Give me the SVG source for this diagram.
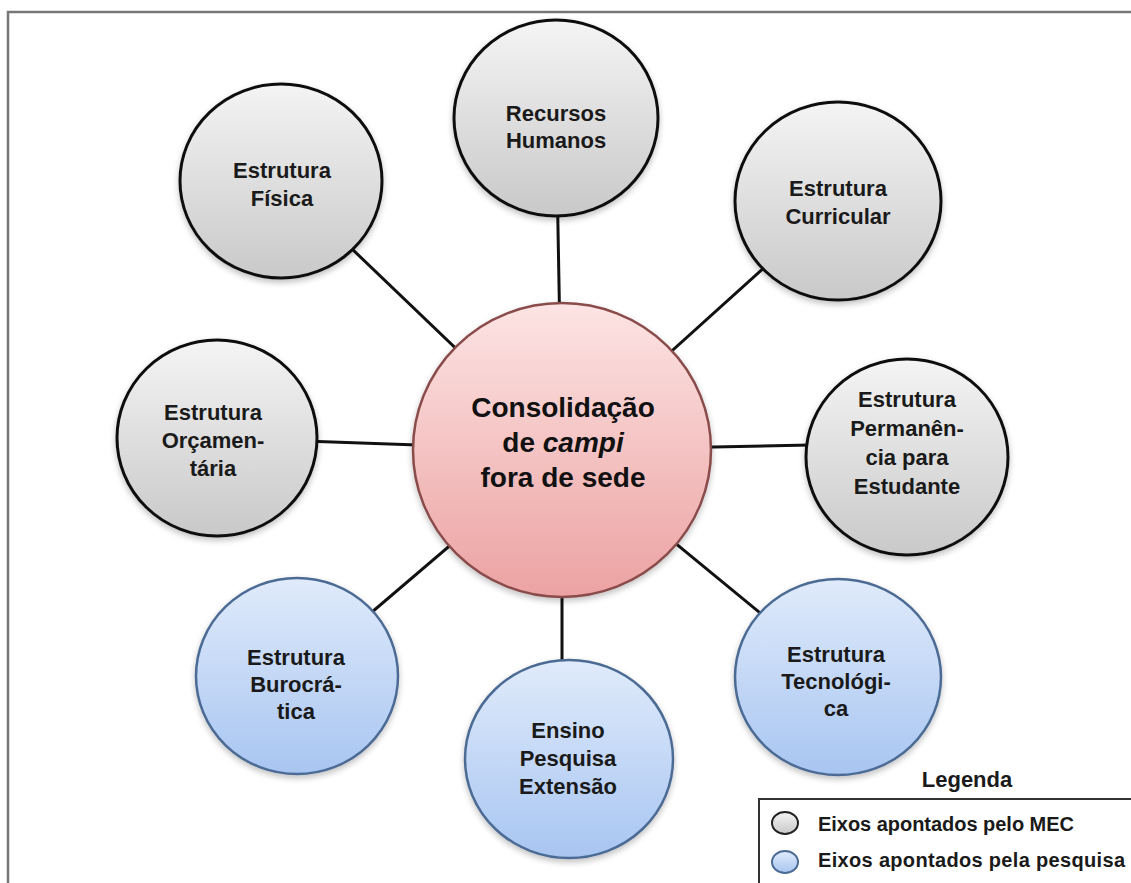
<svg xmlns="http://www.w3.org/2000/svg" width="1131" height="883" viewBox="0 0 1131 883">
<defs>
<linearGradient id="gGray" x1="0" y1="0" x2="0" y2="1">
<stop offset="0" stop-color="#f4f4f4"/>
<stop offset="1" stop-color="#c9c9c9"/>
</linearGradient>
<linearGradient id="gBlue" x1="0" y1="0" x2="0" y2="1">
<stop offset="0" stop-color="#e0ebfb"/>
<stop offset="1" stop-color="#a8c5f1"/>
</linearGradient>
<linearGradient id="gRed" x1="0" y1="0" x2="0" y2="1">
<stop offset="0" stop-color="#fde4e4"/>
<stop offset="1" stop-color="#eca2a2"/>
</linearGradient>
<filter id="sh" x="-20%" y="-20%" width="140%" height="140%">
<feGaussianBlur in="SourceAlpha" stdDeviation="3"/>
<feOffset dx="0" dy="3" result="b"/>
<feComponentTransfer><feFuncA type="linear" slope="0.25"/></feComponentTransfer>
<feMerge><feMergeNode/><feMergeNode in="SourceGraphic"/></feMerge>
</filter>
</defs>
<style>
.gray{fill:url(#gGray);stroke:#111;stroke-width:3;filter:url(#sh)}
.blue{fill:url(#gBlue);stroke:#4c6b94;stroke-width:2.5;filter:url(#sh)}
.red{fill:url(#gRed);stroke:#8a4b4b;stroke-width:2.5;filter:url(#sh)}
.t{font-family:"Liberation Sans",Arial,sans-serif;font-weight:bold;font-size:22px;fill:#1a1a1a;text-anchor:middle}
.tc{font-family:"Liberation Sans",Arial,sans-serif;font-weight:bold;font-size:28px;fill:#111;text-anchor:middle}
.lg{font-family:"Liberation Sans",Arial,sans-serif;font-weight:bold;font-size:20px;fill:#1a1a1a}
.conn{stroke:#111;stroke-width:3;fill:none}
</style>
<rect x="0" y="0" width="1131" height="883" fill="#fff"/>
<rect x="8" y="12" width="1140" height="900" fill="none" stroke="#777" stroke-width="2.5"/>

<g id="connectors">
<line class="conn" x1="562" y1="450" x2="556" y2="118"/>
<line class="conn" x1="562" y1="450" x2="281" y2="181"/>
<line class="conn" x1="562" y1="450" x2="838" y2="201"/>
<line class="conn" x1="562" y1="450" x2="217" y2="438"/>
<line class="conn" x1="562" y1="450" x2="907" y2="443"/>
<line class="conn" x1="562" y1="450" x2="297" y2="676"/>
<line class="conn" x1="562" y1="450" x2="562" y2="759"/>
<line class="conn" x1="562" y1="450" x2="838" y2="677"/>
</g>

<g id="recursos">
<ellipse class="gray" cx="556" cy="118" rx="102" ry="98"/>
<text class="t" x="556" y="121">Recursos</text>
<text class="t" x="556" y="148">Humanos</text>
</g>
<g id="fisica">
<ellipse class="gray" cx="281" cy="181" rx="101" ry="97"/>
<text class="t" x="282" y="178">Estrutura</text>
<text class="t" x="282" y="206">Física</text>
</g>
<g id="curricular">
<ellipse class="gray" cx="838" cy="201" rx="103" ry="99"/>
<text class="t" x="838" y="196">Estrutura</text>
<text class="t" x="838" y="224">Curricular</text>
</g>
<g id="orcamentaria">
<ellipse class="gray" cx="217" cy="438" rx="100" ry="98"/>
<text class="t" x="213" y="420">Estrutura</text>
<text class="t" x="213" y="448">Orçamen-</text>
<text class="t" x="213" y="476">tária</text>
</g>
<g id="permanencia">
<ellipse class="gray" cx="907" cy="457" rx="101" ry="98"/>
<text class="t" x="907" y="407">Estrutura</text>
<text class="t" x="907" y="436">Permanên-</text>
<text class="t" x="907" y="465">cia para</text>
<text class="t" x="907" y="494">Estudante</text>
</g>
<g id="burocratica">
<ellipse class="blue" cx="297" cy="676" rx="101" ry="98"/>
<text class="t" x="296" y="665">Estrutura</text>
<text class="t" x="296" y="692">Burocrá-</text>
<text class="t" x="296" y="719">tica</text>
</g>
<g id="ensino">
<ellipse class="blue" cx="569" cy="759" rx="104" ry="99"/>
<text class="t" x="568" y="738">Ensino</text>
<text class="t" x="568" y="766">Pesquisa</text>
<text class="t" x="568" y="794">Extensão</text>
</g>
<g id="tecnologica">
<ellipse class="blue" cx="838" cy="677" rx="103" ry="98"/>
<text class="t" x="836" y="662">Estrutura</text>
<text class="t" x="836" y="689">Tecnológi-</text>
<text class="t" x="836" y="716">ca</text>
</g>
<g id="centro">
<ellipse class="red" cx="562" cy="450" rx="149" ry="147"/>
<text class="tc" x="563" y="417">Consolidação</text>
<text class="tc" x="563" y="452">de <tspan font-style="italic">campi</tspan></text>
<text class="tc" x="563" y="487">fora de sede</text>
</g>

<g id="legenda">
<text class="t" x="967" y="787">Legenda</text>
<rect x="759" y="799" width="400" height="120" fill="#fff" stroke="#333" stroke-width="2"/>
<ellipse cx="785" cy="823" rx="13" ry="11" fill="url(#gGray)" stroke="#222" stroke-width="2"/>
<ellipse cx="785" cy="862" rx="13" ry="11" fill="url(#gBlue)" stroke="#4c6b94" stroke-width="2"/>
<text class="lg" x="818" y="831" textLength="256" lengthAdjust="spacing">Eixos apontados pelo MEC</text>
<text class="lg" x="818" y="867" textLength="307" lengthAdjust="spacing">Eixos apontados pela pesquisa</text>
</g>
</svg>
